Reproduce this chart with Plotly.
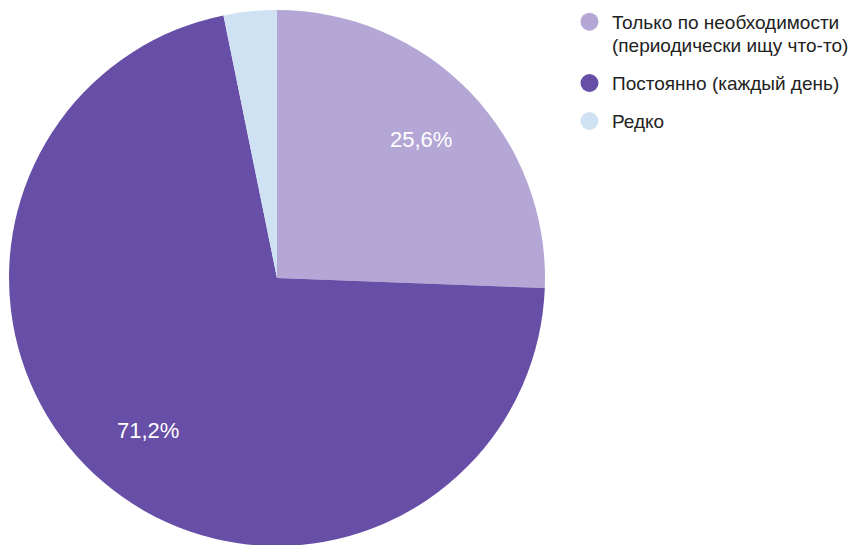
import math
import plotly.graph_objects as go

legend_lines = [["Только по необходимости", "(периодически ищу что-то)"], ["Постоянно (каждый день)"], ["Редко"]]
labels = [" ".join(l) for l in legend_lines]
values = [25.6, 71.2, 3.2]
value_text = ["25,6%", "71,2%", ""]
colors = ["#b4a7d6", "#674ea7", "#cfe2f3"]

FONT = "Liberation Sans, Arial, sans-serif"
W, H = 856, 545
m_t, m_b, m_l, m_r = 2, 7, 0, 0
plot_w = W - m_l - m_r
plot_h = H - m_t - m_b
dom_x = [1 / W, 537 / W]
dom_y = [0.0, 1.0]

fig = go.Figure()
fig.add_trace(go.Pie(
    labels=labels, values=values, sort=False, direction="clockwise", rotation=0,
    marker=dict(colors=colors, line=dict(width=0)),
    textinfo="none", hoverinfo="label+percent", showlegend=False,
    domain=dict(x=dom_x, y=dom_y),
))

def px_x(x):
    return (x - m_l) / plot_w

def px_y(y):
    return 1 - (y - m_t) / plot_h

# inside labels at slice mid-angles
cx_px = m_l + (dom_x[0] + dom_x[1]) / 2 * plot_w
cy_px = m_t + (1 - (dom_y[0] + dom_y[1]) / 2) * plot_h
radius_px = min((dom_x[1] - dom_x[0]) * plot_w, (dom_y[1] - dom_y[0]) * plot_h) / 2
total = sum(values)
cum = 0
for v, t in zip(values, value_text):
    mid = (cum + v / 2) / total * 2 * math.pi
    cum += v
    if not t:
        continue
    r = 0.745 * radius_px
    fig.add_annotation(x=px_x(cx_px + r * math.sin(mid)), y=px_y(cy_px - r * math.cos(mid)),
                       xref="paper", yref="paper", xanchor="center", yanchor="middle",
                       text=t, showarrow=False,
                       font=dict(color="#ffffff", size=22, family=FONT))

# legend (circle + text lines)
leg_marker_x = 581.5
leg_text_x = 602
leg_marker_y = [13.7, 75, 113]
line_gap = 23
marker_r = 9
for lines, col, my in zip(legend_lines, colors, leg_marker_y):
    fig.add_shape(type="circle", xref="paper", yref="paper",
                  x0=px_x(leg_marker_x - marker_r), x1=px_x(leg_marker_x + marker_r),
                  y0=px_y(my + marker_r), y1=px_y(my - marker_r),
                  fillcolor=col, line=dict(width=0))
    for j, ln in enumerate(lines):
        fig.add_annotation(x=px_x(leg_text_x), y=px_y(my + 0.5 + j * line_gap),
                           xref="paper", yref="paper", xanchor="left", yanchor="middle",
                           text=ln, showarrow=False,
                           font=dict(family=FONT, size=19, color="#222222"))

fig.update_layout(
    width=W, height=H, margin=dict(t=m_t, b=m_b, l=m_l, r=m_r),
    paper_bgcolor="white", plot_bgcolor="white",
    font=dict(family=FONT, size=19, color="#222222"),
    showlegend=False,
)

fig.write_html("out.html")
